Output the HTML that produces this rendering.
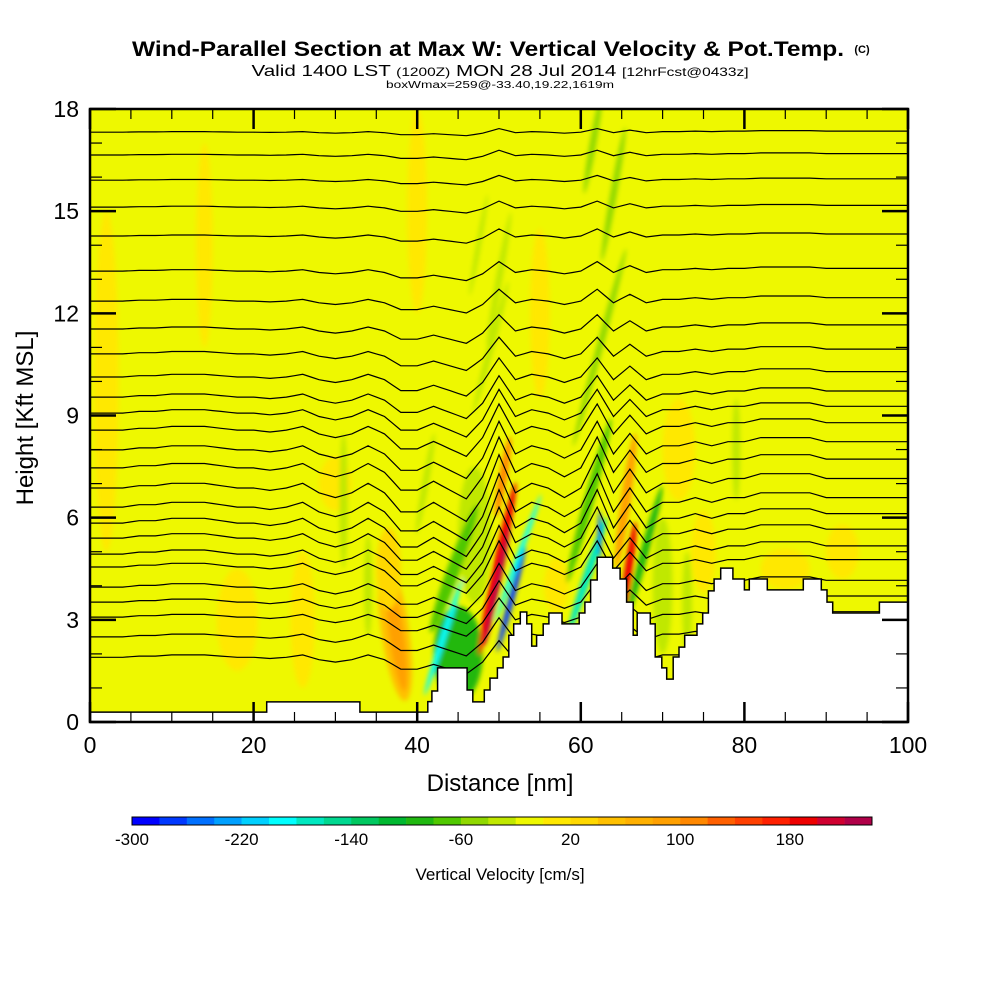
<!DOCTYPE html>
<html><head><meta charset="utf-8"><style>
html,body{margin:0;padding:0;background:#fff;width:1000px;height:1000px;overflow:hidden}
svg{display:block}
text{font-family:"Liberation Sans",sans-serif;fill:#000}
</style></head><body>
<svg id="chart" width="1000" height="1000" viewBox="0 0 1000 1000" xmlns="http://www.w3.org/2000/svg">
<defs>
<clipPath id="plotClip"><rect x="90" y="109" width="818" height="613"/></clipPath>
<filter id="soft" x="-50%" y="-50%" width="200%" height="200%"><feGaussianBlur stdDeviation="2.5"/></filter>
</defs>
<text x="488" y="56" font-size="21" font-weight="bold" text-anchor="middle" textLength="712" lengthAdjust="spacingAndGlyphs">Wind-Parallel Section at Max W: Vertical Velocity &amp; Pot.Temp.</text>
<text x="862" y="53" font-size="11" font-weight="bold" text-anchor="middle">(C)</text>
<text x="500" y="76" font-size="16" text-anchor="middle" textLength="497" lengthAdjust="spacingAndGlyphs">Valid 1400 LST <tspan font-size="12">(1200Z)</tspan> MON 28 Jul 2014 <tspan font-size="12">[12hrFcst@0433z]</tspan></text>
<text x="500" y="88" font-size="10" text-anchor="middle" textLength="228" lengthAdjust="spacingAndGlyphs">boxWmax=259@-33.40,19.22,1619m</text>
<g id="plot" clip-path="url(#plotClip)"></g>
<g id="axes"></g>
<text x="500" y="791" font-size="24" text-anchor="middle">Distance [nm]</text>
<text transform="translate(33,418) rotate(-90)" font-size="24" text-anchor="middle">Height [Kft MSL]</text>
<g id="cbar"></g>
<text x="500" y="880" font-size="17" text-anchor="middle">Vertical Velocity [cm/s]</text>
</svg>
<script>
// ---- data ----
const colorBins = ["#0000ff","#0038ff","#0070ff","#00a0ff","#00d0ff","#00ffff","#00e8c0","#00d890","#00c860","#00b830","#20b810","#50c800","#90d800","#c0e800","#eef800","#ffe800","#ffd800","#ffc000","#ffb000","#ffa000","#ff8800","#ff6000","#ff4000","#ff2000","#ee0000","#d00030","#b00048"];
const cbarLabels = [-300,-220,-140,-60,20,100,180];
const xTicks = [0,20,40,60,80,100];
const yTicks = [0,3,6,9,12,15,18];
const backgroundW = -10;
const terrainD = [0,21.6,33.0,41.3,41.8,42.5,46.1,46.8,48.2,48.9,49.8,50.5,51.2,51.8,52.6,53.4,54.0,54.6,55.4,56.1,57.7,59.8,60.5,61.2,62.0,63.9,64.8,65.6,66.4,66.9,68.5,69.1,69.9,70.5,71.3,72.0,72.7,74.2,74.9,75.6,76.3,77.1,78.6,80.0,80.6,82.8,87.2,89.4,90.1,90.8,96.5];
const terrainH = [.29,.59,.29,.6,.91,1.59,.94,.59,.94,1.29,1.59,1.91,2.55,2.88,3.23,2.88,2.23,2.55,2.88,3.2,2.88,3.2,3.52,4.17,4.84,4.52,4.2,3.52,2.55,3.2,2.88,1.91,1.59,1.26,1.91,2.2,2.55,2.88,3.2,3.85,4.2,4.52,4.2,3.88,4.2,3.88,4.2,3.88,3.52,3.2,3.52];
const blobD  = [2,18,14,40,55,72,85,92,30,57,75,26, 37.3,37.5,36.5, 45,47,44.5,43.2, 49.8,49.8,50.5, 51.5,52.3, 61,60.8,62.3, 65.5,65.8, 67.8,70,73, 62.3,64,61.5,49,47.5,31,50,79,34,41];
const blobH  = [10,3,14,15,12,8,4.5,5,7,4,5,3, 2.7,2.5,4.5, 2.0,5.5,4.5,2.5, 4.5,4.0,7.2, 3.6,4.8, 6.5,4.3,5.5, 6.5,4.4, 5,4,3.5, 11,15.5,17,11,14,6.5,13,8,4,7];
const blobRx = [1.5,2.5,1,1.2,1.2,2,3,2,2,1.5,1.5,1.5, 1.7,0.9,1.5, 3,2,0.8,0.35, 0.6,0.3,0.5, 0.35,0.3, 0.6,0.5,0.25, 0.6,0.5, 0.5,1.2,0.6, 0.4,0.4,0.4,0.4,0.3,0.5,0.4,0.5,0.5,0.4];
const blobRy = [5,1.5,3,3,2.5,1.5,0.6,0.8,0.8,0.8,1.2,2, 2.1,1.6,1.2, 1.4,2,2,1.8, 2.6,1.8,1.2, 1.6,2.0, 2.5,1.8,0.7, 2,1.5, 2,2,1.5, 3,2,1.5,2,1.5,2,2,1.5,1.5,1.5];
const blobRot= [0,0,0,0,0,0,0,0,0,0,0,0, 8,8,0, 0,0,-20,-18, -12,-12,-10, -15,-20, -15,-18,0, -8,-8, -15,0,0, -15,-10,-10,-15,-10,0,-10,0,0,-10];
const blobW  = [10,10,10,10,10,10,10,10,10,10,10,10, 50,80,20, -100,-40,-80,-200, 190,220,100, -280,-200, -80,-180,-260, 90,180, -100,-40,-40, -60,-60,-60,-40,-40,-40,-40,-30,-40,-40];
const contourLevels = [17.32,16.65,15.91,15.12,14.27,13.24,12.36,11.54,10.81,10.13,9.54,9.07,8.57,7.99,7.46,6.87,6.31,5.84,5.40,4.93,4.55,3.96,3.52,3.08,2.5,1.9];
const contourAmp = [.15,.2,.2,.25,.3,.4,.5,.6,.7,.8,.9,1,1.1,1.2,1.3,1.4,1.4,1.4,1.3,1.2,1.1,1,.9,.8,.8,.7];
const dispD = [0,2,4,6,8,10,12,14,16,18,20,22,24,26,28,30,32,34,36,38,40,42,44,46,48,50,52,54,56,58,60,62,64,66,68,70,72,74,76,78,80,82,84,86,88,90,92,94,96,98,100];
const dispH = [0,0,0,0.05,0.05,0.1,0.1,0.1,0.05,0,0,-0.05,0,0.1,-0.1,-0.2,-0.1,0.1,-0.1,-0.5,-0.5,-0.3,-0.5,-0.7,-0.2,0.7,-0.1,0.1,0,-0.2,0,0.7,-0.1,0.4,-0.1,0.1,0.1,0.2,0.1,0.2,0.2,0.3,0.3,0.3,0.3,0.2,0.2,0.2,0.2,0.2,0.2];

// ---- scales ----
const X0=90,X1=908,Y0=722,Y1=109;
function xs(d){return X0+(d/100)*(X1-X0);}
function ys(h){return Y0-(h/18)*(Y0-Y1);}
function wColor(w){let i=Math.floor((w+300)/20);i=Math.max(0,Math.min(colorBins.length-1,i));return colorBins[i];}
const NS="http://www.w3.org/2000/svg";
function mk(tag,attrs,parent){const e=document.createElementNS(NS,tag);for(const k in attrs)e.setAttribute(k,attrs[k]);parent.appendChild(e);return e;}

const plot=document.getElementById('plot');
const bg=mk('rect',{x:X0,y:Y1,width:X1-X0,height:Y0-Y1,fill:wColor(backgroundW)},plot);


const blobG=mk('g',{filter:'url(#soft)'},plot);


for(let i=0;i<blobD.length;i++){
  const cx=xs(blobD[i]),cy=ys(blobH[i]);
  const rx=xs(blobRx[i])-X0, ry=Y0-ys(blobRy[i]);
  const e=mk('ellipse',{cx:cx,cy:cy,rx:rx,ry:ry,fill:wColor(blobW[i]),transform:'rotate('+(-blobRot[i])+' '+cx+' '+cy+')'},blobG);
  
  
}
// contours
function dispAt(d){for(let k=0;k<dispD.length-1;k++){if(d<=dispD[k+1]){const t=(d-dispD[k])/(dispD[k+1]-dispD[k]);return dispH[k]+(dispH[k+1]-dispH[k])*t;}}return dispH[dispH.length-1];}
const cg=mk('g',{},plot);


for(let j=0;j<contourLevels.length;j++){
  let pts=[];
  for(let d=0;d<=100;d+=1){pts.push(xs(d).toFixed(1)+','+ys(contourLevels[j]+contourAmp[j]*dispAt(d)).toFixed(1));}
  const p=mk('polyline',{points:pts.join(' '),fill:'none',stroke:'#000','stroke-width':1.2},cg);
  
  
}
// terrain
let tp=[xs(0)+','+ys(0)];
for(let i=0;i<terrainD.length;i++){
  const dEnd=i<terrainD.length-1?terrainD[i+1]:100;
  tp.push(xs(terrainD[i]).toFixed(1)+','+ys(terrainH[i]).toFixed(1));
  tp.push(xs(dEnd).toFixed(1)+','+ys(terrainH[i]).toFixed(1));
}
tp.push(xs(100)+','+ys(0));
const terr=mk('polygon',{points:tp.join(' '),fill:'#fff',stroke:'#000','stroke-width':1.5},plot);



// axes
const ax=document.getElementById('axes');
const frame=mk('rect',{x:X0,y:Y1,width:X1-X0,height:Y0-Y1,fill:'none',stroke:'#000','stroke-width':2.5},ax);


for(let d=0;d<=100;d+=5){
  const major=xTicks.includes(d), L=major?20:10;
  mk('line',{x1:xs(d),x2:xs(d),y1:Y0,y2:Y0-L,stroke:'#000','stroke-width':major?2.5:1.2},ax);
  mk('line',{x1:xs(d),x2:xs(d),y1:Y1,y2:Y1+L,stroke:'#000','stroke-width':major?2.5:1.2},ax);
}
for(let h=0;h<=18;h+=1){
  const major=yTicks.includes(h), L=major?26:12;
  mk('line',{x1:X0,x2:X0+L,y1:ys(h),y2:ys(h),stroke:'#000','stroke-width':major?2.5:1.2},ax);
  mk('line',{x1:X1,x2:X1-L,y1:ys(h),y2:ys(h),stroke:'#000','stroke-width':major?2.5:1.2},ax);
}
xTicks.forEach(d=>{
  const t=mk('text',{x:xs(d),y:753,'font-size':23,'text-anchor':'middle'},ax);t.textContent=d;
  
  
});
yTicks.forEach(h=>{
  const t=mk('text',{x:79,y:ys(h)+8,'font-size':23,'text-anchor':'end'},ax);t.textContent=h;
  
  
});
// colorbar
const cb=document.getElementById('cbar');
const CB0=132,CB1=872,bw=(CB1-CB0)/colorBins.length;
colorBins.forEach((c,i)=>{
  const r=mk('rect',{x:CB0+i*bw,y:817,width:bw+0.3,height:8,fill:c},cb);
  
  
});
mk('rect',{x:CB0,y:817,width:CB1-CB0,height:8,fill:'none',stroke:'#000','stroke-width':1},cb);
cbarLabels.forEach(v=>{
  const t=mk('text',{x:CB0+(v+300)/20*bw,y:845,'font-size':17,'text-anchor':'middle'},cb);t.textContent=v;
  
  
});
</script>
</body></html>
